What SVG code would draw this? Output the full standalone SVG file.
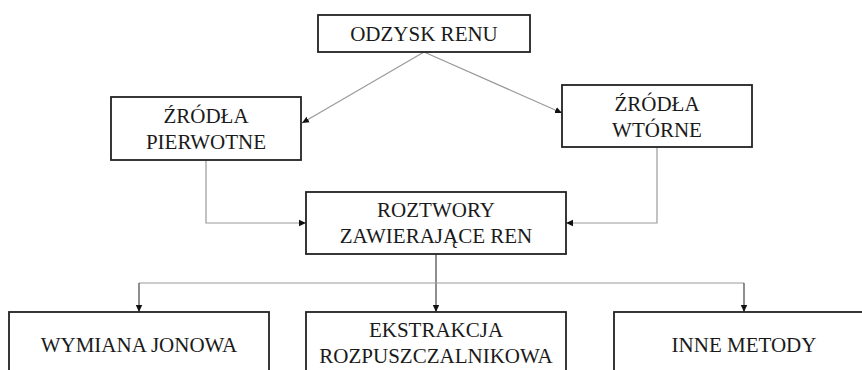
<svg xmlns="http://www.w3.org/2000/svg" width="862" height="370" viewBox="0 0 862 370">
  <style>
    .box { fill: #ffffff; stroke: #222222; stroke-width: 1.8; }
    .lbl { font-size: 21px; fill: #1a1a1a; text-anchor: middle; }
    .conn { fill: none; stroke: #9a9a9a; stroke-width: 1.2; }
    .conn-dark { fill: none; stroke: #444444; stroke-width: 1.2; }
  </style>
  <defs>
    <marker id="arrow" markerWidth="8" markerHeight="8" refX="7" refY="4" orient="auto" markerUnits="userSpaceOnUse">
      <path d="M0,0.8 L7,4 L0,7.2 Z" fill="#111111"/>
    </marker>
  </defs>
  <rect width="862" height="370" fill="#ffffff"/>

  <g id="connectors">
    <line class="conn" x1="424" y1="52" x2="302" y2="123" marker-end="url(#arrow)"/>
    <line class="conn" x1="424" y1="52" x2="562" y2="113" marker-end="url(#arrow)"/>
    <polyline class="conn" points="206,160 206,223 306,223" marker-end="url(#arrow)"/>
    <polyline class="conn" points="657,147 657,223 566,223" marker-end="url(#arrow)"/>
    <line class="conn-dark" x1="436" y1="254" x2="436" y2="312" marker-end="url(#arrow)"/>
    <line class="conn" x1="139" y1="283" x2="744" y2="283"/>
    <line class="conn-dark" x1="139" y1="283" x2="139" y2="312" marker-end="url(#arrow)"/>
    <line class="conn-dark" x1="744" y1="283" x2="744" y2="312" marker-end="url(#arrow)"/>
  </g>

  <g font-family="Liberation Serif, Times New Roman, serif">
    <g id="odzysk-renu">
      <rect class="box" x="318" y="15" width="212" height="37"/>
      <text class="lbl" x="424" y="41">ODZYSK RENU</text>
    </g>

    <g id="zrodla-pierwotne">
      <rect class="box" x="111" y="97" width="190" height="63"/>
      <text class="lbl" x="206" y="123">ŹRÓDŁA</text>
      <text class="lbl" x="206" y="149">PIERWOTNE</text>
    </g>

    <g id="zrodla-wtorne">
      <rect class="box" x="562" y="85" width="190" height="62"/>
      <text class="lbl" x="657" y="111">ŹRÓDŁA</text>
      <text class="lbl" x="657" y="137">WTÓRNE</text>
    </g>

    <g id="roztwory">
      <rect class="box" x="306" y="192" width="260" height="62"/>
      <text class="lbl" x="436" y="217">ROZTWORY</text>
      <text class="lbl" x="436" y="243">ZAWIERAJĄCE REN</text>
    </g>

    <g id="wymiana-jonowa">
      <rect class="box" x="9" y="312" width="260" height="70"/>
      <text class="lbl" x="139" y="352">WYMIANA JONOWA</text>
    </g>

    <g id="ekstrakcja">
      <rect class="box" x="306" y="312" width="260" height="70"/>
      <text class="lbl" x="436" y="337">EKSTRAKCJA</text>
      <text class="lbl" x="436" y="363">ROZPUSZCZALNIKOWA</text>
    </g>

    <g id="inne-metody">
      <rect class="box" x="614" y="312" width="260" height="70"/>
      <text class="lbl" x="744" y="352">INNE METODY</text>
    </g>
  </g>
</svg>
